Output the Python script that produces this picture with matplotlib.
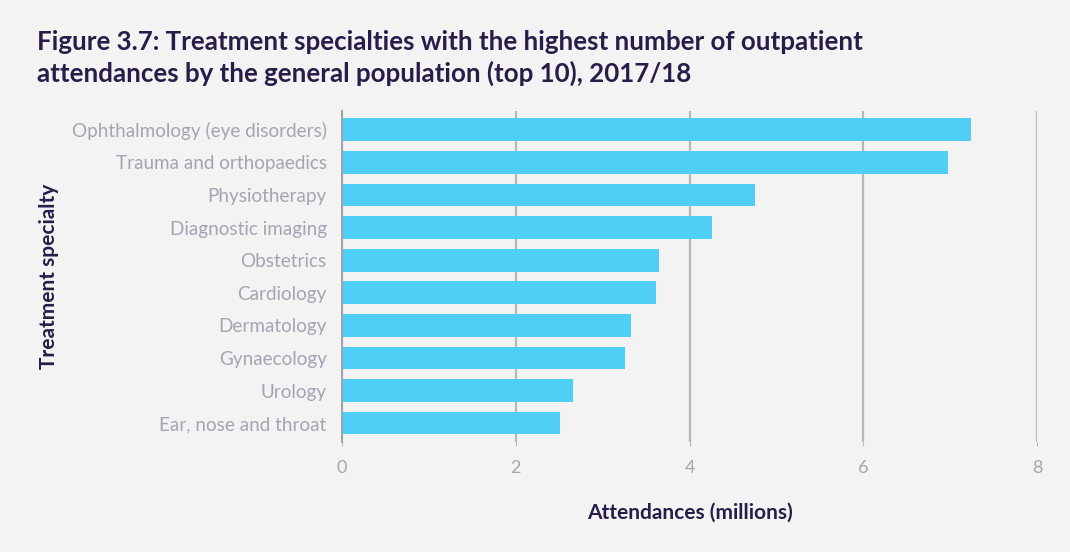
import matplotlib
matplotlib.use("Agg")
import matplotlib.pyplot as plt

# data
specialties = ["Ophthalmology (eye disorders)", "Trauma and orthopaedics", "Physiotherapy",
               "Diagnostic imaging", "Obstetrics", "Cardiology", "Dermatology",
               "Gynaecology", "Urology", "Ear, nose and throat"]
attendances = [7.24, 6.97, 4.75, 4.26, 3.65, 3.62, 3.33, 3.26, 2.66, 2.51]
x_ticks = [0, 2, 4, 6, 8]

bg = '#f3f3f3'
bar_col = '#4fcff5'
dark = '#2a1c48'
grey_txt = '#a2a6b2'
grid_col = '#b4b8be'

plt.rcParams['font.family'] = ['Lato', 'DejaVu Sans']

fig = plt.figure(figsize=(10.7, 5.52), dpi=100, facecolor=bg)
ax = fig.add_axes([0.3196, 0.1993, 0.6496, 0.5996])
ax.set_facecolor(bg)

ypos = list(range(len(specialties)))
ax.barh(ypos, attendances, height=0.7, color=bar_col, zorder=3)
ax.set_ylim(len(specialties) - 0.42, -0.58)
ax.set_xlim(0, 8)

ax.set_xticks(x_ticks)
ax.set_xticklabels([str(t) for t in x_ticks])
ax.set_yticks(ypos)
ax.set_yticklabels(specialties)
ax.tick_params(axis='y', length=0, pad=11, labelsize=13.6, labelcolor=grey_txt)
ax.tick_params(axis='x', length=3, width=0.8, color=grid_col, pad=10,
               labelsize=13, labelcolor=grey_txt)

ax.grid(axis='x', color=grid_col, linewidth=1.6, zorder=1)
for s in ['top', 'right', 'bottom']:
    ax.spines[s].set_visible(False)
ax.spines['left'].set_color('#9ea3ab')
ax.spines['left'].set_linewidth(1.4)
ax.spines['left'].set_zorder(4)

ax.set_xlabel('Attendances (millions)', fontsize=15, fontweight='bold', color=dark, labelpad=19)
fig.text(0.046, 0.5, 'Treatment specialty', rotation=90, fontsize=15, fontweight='bold',
         color=dark, ha='center', va='center')

fig.text(0.035, 0.945, 'Figure 3.7: Treatment specialties with the highest number of outpatient\n'
         'attendances by the general population (top 10), 2017/18',
         fontsize=18.6, fontweight='bold', color=dark, ha='left', va='top', linespacing=1.3)

fig.savefig('out.png', dpi=100, facecolor=bg)
